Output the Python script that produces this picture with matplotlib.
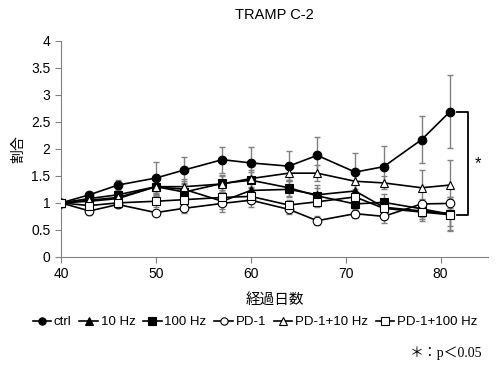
import numpy as np
import matplotlib
matplotlib.use("Agg")
import matplotlib.pyplot as plt

plt.rcParams['font.family'] = ['Liberation Sans', 'Noto Sans CJK JP', 'DejaVu Sans']

# 経過日数
days = [40, 43, 46, 50, 53, 57, 60, 64, 67, 71, 74, 78, 81]

ctrl = [1.00, 1.15, 1.33, 1.46, 1.61, 1.80, 1.74, 1.68, 1.88, 1.57, 1.67, 2.17, 2.69]
ctrl_err = [0.00, 0.06, 0.10, 0.30, 0.24, 0.24, 0.30, 0.28, 0.34, 0.35, 0.38, 0.44, 0.68]

hz10 = [1.00, 1.03, 1.08, 1.30, 1.25, 1.03, 1.23, 1.25, 1.15, 1.22, 0.92, 0.85, 0.80]
hz10_err = [0.00, 0.08, 0.10, 0.15, 0.15, 0.20, 0.15, 0.15, 0.18, 0.15, 0.15, 0.18, 0.30]

hz100 = [1.00, 1.08, 1.15, 1.30, 1.20, 1.36, 1.42, 1.28, 1.13, 0.98, 1.01, 0.89, 0.79]
hz100_err = [0.00, 0.08, 0.10, 0.12, 0.15, 0.15, 0.15, 0.15, 0.15, 0.12, 0.15, 0.15, 0.32]

pd1 = [1.00, 0.85, 0.97, 0.82, 0.90, 0.99, 1.05, 0.88, 0.67, 0.80, 0.75, 0.98, 0.99]
pd1_err = [0.00, 0.08, 0.06, 0.05, 0.08, 0.10, 0.12, 0.08, 0.08, 0.08, 0.12, 0.10, 0.08]

pd1_10 = [1.00, 1.05, 1.10, 1.30, 1.30, 1.35, 1.45, 1.55, 1.55, 1.40, 1.37, 1.28, 1.33]
pd1_10_err = [0.00, 0.08, 0.10, 0.15, 0.15, 0.15, 0.15, 0.12, 0.15, 0.15, 0.12, 0.33, 0.47]

pd1_100 = [1.00, 0.95, 1.00, 1.03, 1.06, 1.10, 1.12, 0.96, 1.02, 1.11, 0.90, 0.83, 0.78]
pd1_100_err = [0.00, 0.08, 0.08, 0.10, 0.10, 0.10, 0.10, 0.10, 0.10, 0.10, 0.10, 0.12, 0.20]

series = [
    ("ctrl", ctrl, ctrl_err, "o", "black"),
    ("10 Hz", hz10, hz10_err, "^", "black"),
    ("100 Hz", hz100, hz100_err, "s", "black"),
    ("PD-1", pd1, pd1_err, "o", "white"),
    ("PD-1+10 Hz", pd1_10, pd1_10_err, "^", "white"),
    ("PD-1+100 Hz", pd1_100, pd1_100_err, "s", "white"),
]

fig = plt.figure(figsize=(5, 3.75), dpi=100)
ax = fig.add_axes([0.122, 0.315, 0.854, 0.576])

handles = []
for name, vals, err, mk, fc in series:
    ax.errorbar(days, vals, yerr=err, fmt="none", ecolor="#808080",
                elinewidth=1.0, capsize=2, capthick=1.0, zorder=2)
    h, = ax.plot(days, vals, color="black", lw=1.2, marker=mk, ms=6.2,
                 mfc=fc, mec="black", mew=0.8, label=name, zorder=3)
    handles.append(h)

ax.set_xlim(40, 85)
ax.set_ylim(0, 4)
ax.set_xticks([40, 50, 60, 70, 80])
ax.set_yticks(np.arange(0, 4.01, 0.5))
ax.set_yticklabels(["0", "0.5", "1", "1.5", "2", "2.5", "3", "3.5", "4"])
for s in ["top", "right"]:
    ax.spines[s].set_visible(False)
for s in ["left", "bottom"]:
    ax.spines[s].set_color("#808080")
ax.tick_params(direction="out", length=4, color="#808080", labelsize=10)

ax.set_title("TRAMP C-2", fontsize=10.5, pad=16)
ax.set_ylabel("割合", fontsize=10)
ax.set_xlabel("経過日数", fontsize=10.5, labelpad=8)

# significance bracket
ax.plot([81.7, 82.9, 82.9, 81.7], [2.69, 2.69, 0.78, 0.78],
        color="black", lw=1.3, clip_on=False)
ax.text(83.9, 1.72, "*", fontsize=12, ha="center", va="center")

fig.legend(handles=handles, loc="center", bbox_to_anchor=(0.51, 0.141),
           ncol=6, frameon=False, fontsize=9.5, handlelength=1.4,
           handletextpad=0.2, columnspacing=0.6, markerscale=0.85)

fig.text(0.965, 0.058, "＊：p＜0.05", ha="right", va="center", fontsize=10,
         family=["Liberation Serif", "Noto Sans CJK JP", "DejaVu Serif"])

fig.savefig("out.png", dpi=100)
